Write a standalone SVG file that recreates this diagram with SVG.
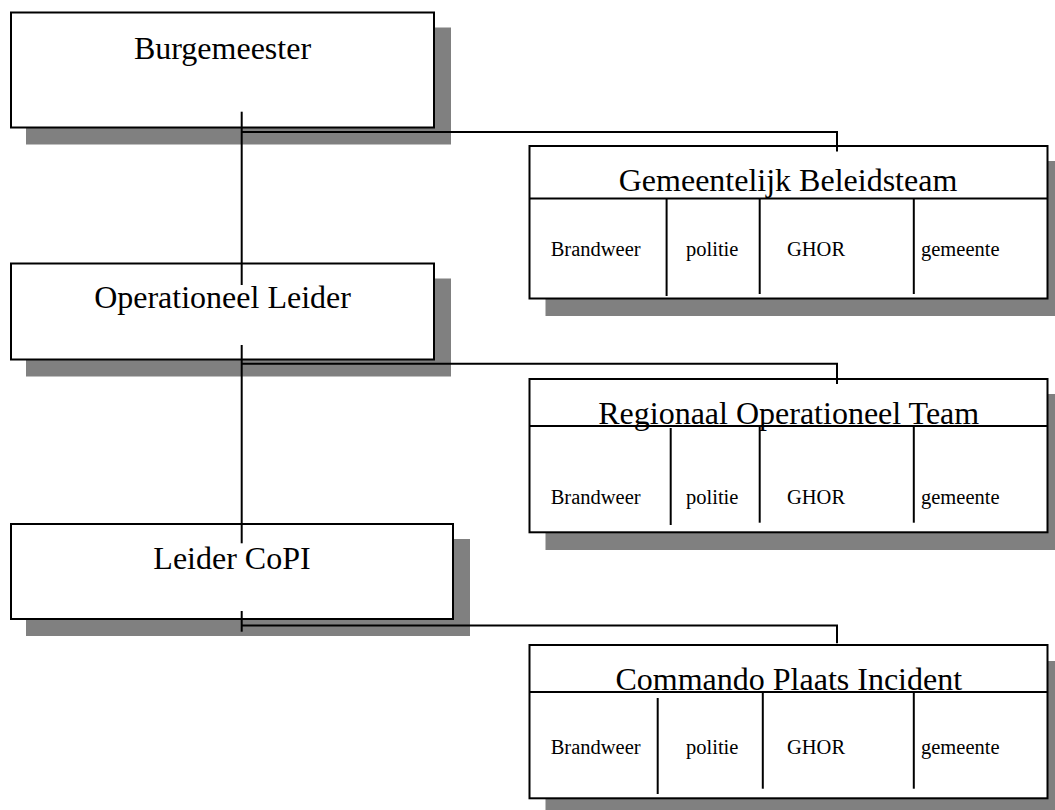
<svg xmlns="http://www.w3.org/2000/svg" width="1055" height="810" viewBox="0 0 1055 810">
<style>
.shadow{fill:#808080;stroke:none}
.box{fill:#ffffff;stroke:#000000;stroke-width:2}
.ln{fill:none;stroke:#000000;stroke-width:2}
.title{font-family:"Liberation Serif","Times New Roman",serif;font-size:32px;fill:#000000;text-anchor:middle}
.lbl{font-family:"Liberation Serif","Times New Roman",serif;font-size:20.5px;fill:#000000}
</style>
<rect width="1055" height="810" fill="#ffffff"/>
<g id="burgemeester">
<rect class="shadow" x="26" y="27.5" width="425" height="117"/>
<rect class="box" x="11" y="12.5" width="423" height="115"/>
<text class="title" x="222.5" y="59">Burgemeester</text>
</g>
<g id="operationeel-leider">
<rect class="shadow" x="26" y="278.5" width="425" height="98"/>
<rect class="box" x="11" y="263.5" width="423" height="96"/>
<text class="title" x="222.5" y="308">Operationeel Leider</text>
</g>
<g id="leider-copi">
<rect class="shadow" x="26" y="539" width="444" height="97"/>
<rect class="box" x="11" y="524" width="442" height="95"/>
<text class="title" x="232" y="569">Leider CoPI</text>
</g>
<g id="gemeentelijk-beleidsteam">
<rect class="shadow" x="545.5" y="161" width="518" height="155"/>
<rect class="box" x="529.5" y="146" width="518" height="152.5"/>
<text class="title" x="788" y="191">Gemeentelijk Beleidsteam</text>
<line class="ln" x1="529.5" y1="198.5" x2="1047.5" y2="198.5"/>
<line class="ln" x1="666.6" y1="198.5" x2="666.6" y2="296"/>
<line class="ln" x1="759.7" y1="198.5" x2="759.7" y2="294"/>
<line class="ln" x1="913.8" y1="198.5" x2="913.8" y2="294"/>
<text class="lbl" x="550.7" y="256">Brandweer</text>
<text class="lbl" x="686" y="256">politie</text>
<text class="lbl" x="787" y="256">GHOR</text>
<text class="lbl" x="921" y="256">gemeente</text>
</g>
<g id="regionaal-operationeel-team">
<rect class="shadow" x="545.5" y="394" width="518" height="156"/>
<rect class="box" x="529.5" y="379" width="518" height="153.3"/>
<text class="title" x="788.7" y="424">Regionaal Operationeel Team</text>
<line class="ln" x1="529.5" y1="426" x2="1047.5" y2="426"/>
<line class="ln" x1="670.7" y1="428" x2="670.7" y2="525"/>
<line class="ln" x1="759.7" y1="426" x2="759.7" y2="522.7"/>
<line class="ln" x1="913.8" y1="426" x2="913.8" y2="522.7"/>
<text class="lbl" x="550.7" y="504">Brandweer</text>
<text class="lbl" x="686" y="504">politie</text>
<text class="lbl" x="787" y="504">GHOR</text>
<text class="lbl" x="921" y="504">gemeente</text>
</g>
<g id="commando-plaats-incident">
<rect class="shadow" x="545.5" y="661" width="518" height="149"/>
<rect class="box" x="529.5" y="645" width="518" height="153.3"/>
<text class="title" x="788.8" y="690">Commando Plaats Incident</text>
<line class="ln" x1="529.5" y1="692" x2="1047.5" y2="692"/>
<line class="ln" x1="657.7" y1="698" x2="657.7" y2="794"/>
<line class="ln" x1="762.8" y1="692" x2="762.8" y2="788.7"/>
<line class="ln" x1="913.8" y1="692" x2="913.8" y2="788.7"/>
<text class="lbl" x="550.7" y="754">Brandweer</text>
<text class="lbl" x="686" y="754">politie</text>
<text class="lbl" x="787" y="754">GHOR</text>
<text class="lbl" x="921" y="754">gemeente</text>
</g>
<g id="connectors">
<line class="ln" x1="241.7" y1="111.7" x2="241.7" y2="285"/>
<polyline class="ln" points="241.7,132 837,132 837,151.5"/>
<line class="ln" x1="241.7" y1="345" x2="241.7" y2="543.3"/>
<polyline class="ln" points="241.7,363.8 837,363.8 837,384"/>
<line class="ln" x1="241.7" y1="611" x2="241.7" y2="631.7"/>
<polyline class="ln" points="241.7,625.5 837,625.5 837,643.3"/>
</g>
</svg>
